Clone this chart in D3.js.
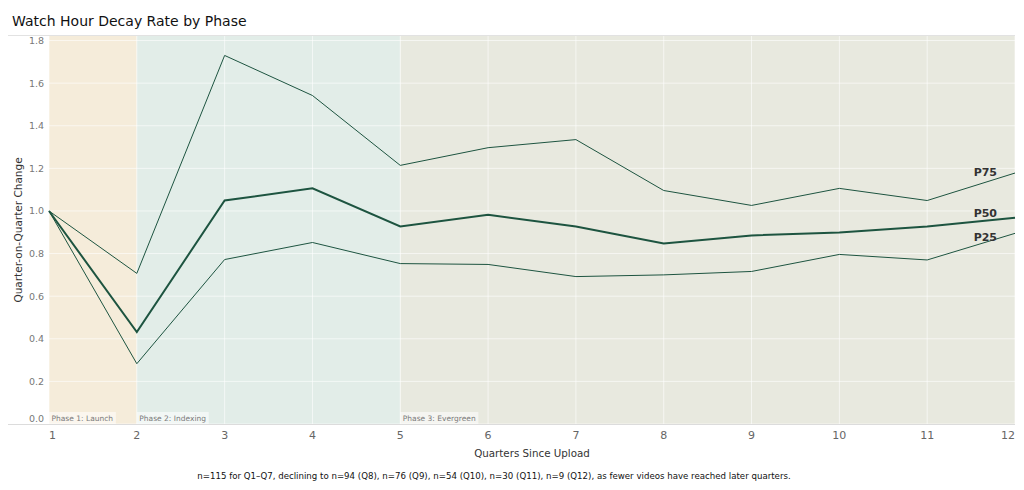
<!DOCTYPE html>
<html><head><meta charset="utf-8">
<script src="https://cdn.jsdelivr.net/npm/d3@7"></script>
<style>body{margin:0;background:#fff;font-family:"DejaVu Sans",sans-serif;}</style>
</head><body><svg id="c" width="1024" height="490"></svg>
<script>
const quarters = [1,2,3,4,5,6,7,8,9,10,11,12];
const p25 = [1.0,0.283,0.772,0.852,0.753,0.749,0.692,0.700,0.716,0.796,0.770,0.895];
const p50 = [1.0,0.432,1.049,1.106,0.927,0.982,0.927,0.847,0.885,0.899,0.927,0.968];
const p75 = [1.0,0.707,1.730,1.542,1.214,1.297,1.335,1.096,1.026,1.106,1.049,1.178];
const yTicks = [0,0.2,0.4,0.6,0.8,1.0,1.2,1.4,1.6,1.8];
const phases = [
  {name:"Phase 1: Launch", start:1, end:2, color:"#f5ecda"},
  {name:"Phase 2: Indexing", start:2, end:5, color:"#e2ede8"},
  {name:"Phase 3: Evergreen", start:5, end:12, color:"#e8e9df"}
];
const seriesLabels = [["P75",p75,3],["P50",p50,-1],["P25",p25,8]];
const footnote = "n=115 for Q1–Q7, declining to n=94 (Q8), n=76 (Q9), n=54 (Q10), n=30 (Q11), n=9 (Q12), as fewer videos have reached later quarters.";

const svg = d3.select("#c");
const L=49, R=1015, T=35, B=424;
const x = d3.scaleLinear().domain([1,12]).range([L,R]);
const y = d3.scaleLinear().domain([0,1.826]).range([B,T]);

// phase backgrounds
svg.selectAll("rect.ph").data(phases).enter().append("rect")
  .attr("x",d=>x(d.start)).attr("width",d=>x(d.end)-x(d.start))
  .attr("y",T).attr("height",B-T).attr("fill",d=>d.color);

// gridlines
svg.append("g").selectAll("line").data(yTicks).enter().append("line")
  .attr("x1",L).attr("x2",R).attr("y1",d=>y(d)).attr("y2",d=>y(d))
  .attr("stroke","#ffffff").attr("stroke-opacity",0.6).attr("stroke-width",1);
svg.append("g").selectAll("line").data(quarters).enter().append("line")
  .attr("x1",d=>x(d)).attr("x2",d=>x(d)).attr("y1",T).attr("y2",B)
  .attr("stroke","#ffffff").attr("stroke-opacity",0.6).attr("stroke-width",1);

// border lines
svg.append("line").attr("x1",8).attr("x2",R).attr("y1",T+0.5).attr("y2",T+0.5).attr("stroke","#e2e2e2");
svg.append("line").attr("x1",8).attr("x2",R).attr("y1",B+0.5).attr("y2",B+0.5).attr("stroke","#dcdcdc");

// phase labels
phases.forEach(p=>{
  const g = svg.append("g");
  const t = g.append("text").attr("x",x(p.start)+2.5).attr("y",B-3.5)
    .attr("font-size",7.5).attr("fill","#7a7a7a").text(p.name);
  const bb = t.node().getBBox();
  g.insert("rect","text").attr("x",x(p.start)).attr("y",B-12)
    .attr("width",bb.width+5).attr("height",12).attr("fill","#ffffff").attr("fill-opacity",0.55);
});

// y axis labels
svg.append("g").selectAll("text").data(yTicks).enter().append("text")
  .attr("x",44).attr("y",d=>d===0? B-2 : y(d)+3.5).attr("text-anchor","end")
  .attr("font-size",9.5).attr("fill","#777").text(d=>d.toFixed(1));
// x axis labels
svg.append("g").selectAll("text").data(quarters).enter().append("text")
  .attr("x",d=>x(d)).attr("y",439)
  .attr("text-anchor",d=>d===1?"start":(d===12?"end":"middle"))
  .attr("font-size",11).attr("fill","#666").text(d=>d);

// lines
const line = d3.line().x((d,i)=>x(quarters[i])).y(d=>y(d));
const col = "#1d5440";
svg.append("path").attr("d",line(p75)).attr("fill","none").attr("stroke",col).attr("stroke-width",1);
svg.append("path").attr("d",line(p25)).attr("fill","none").attr("stroke",col).attr("stroke-width",1);
svg.append("path").attr("d",line(p50)).attr("fill","none").attr("stroke",col).attr("stroke-width",2);

// series labels
seriesLabels.forEach(([n,arr,dy])=>{
  svg.append("text").attr("x",997).attr("y",y(arr[11])+dy)
    .attr("text-anchor","end").attr("font-size",11).attr("font-weight","bold")
    .attr("fill","#333").text(n);
});

// titles
svg.append("text").attr("x",12).attr("y",26).attr("font-size",14).attr("fill","#111")
  .text("Watch Hour Decay Rate by Phase");
svg.append("text").attr("x",532).attr("y",457).attr("text-anchor","middle")
  .attr("font-size",10.3).attr("fill","#333").text("Quarters Since Upload");
svg.append("text").attr("transform","translate(22,230) rotate(-90)").attr("text-anchor","middle")
  .attr("font-size",10.5).attr("fill","#333").text("Quarter-on-Quarter Change");
svg.append("text").attr("x",494).attr("y",479).attr("text-anchor","middle")
  .attr("font-size",8.65).attr("fill","#111").text(footnote);
</script></body></html>
